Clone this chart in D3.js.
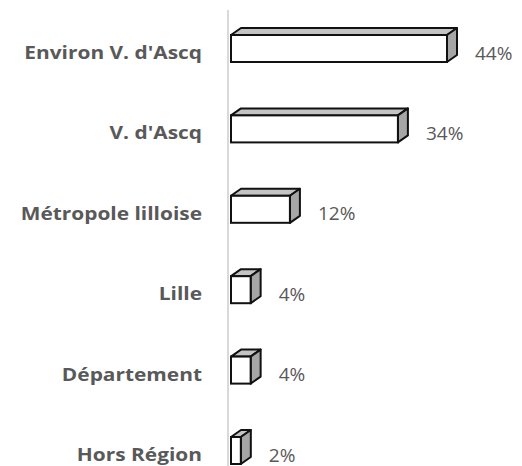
<!DOCTYPE html>
<html>
<head>
<meta charset="utf-8">
<script src="https://cdn.jsdelivr.net/npm/d3@7"></script>
<style>
  html, body { margin: 0; padding: 0; background: #fff; }
  svg { display: block; }
</style>
</head>
<body>
<div id="chart"></div>
<script>
// données du graphique
const categories = ["Environ V. d'Ascq", "V. d'Ascq", "Métropole lilloise", "Lille", "Département", "Hors Région"]
const values = [44, 34, 12, 4, 4, 2]
const valueLabels = ["44%", "34%", "12%", "4%", "4%", "2%"]

const width = 522
const height = 466
const depthX = 10   // profondeur 3D
const depthY = 7

const svg = d3.select('#chart').append('svg')
    .attr('width', width)
    .attr('height', height)

const x = d3.scaleLinear()
    .domain([0, 44])
    .range([231, 447])

const y = d3.scaleBand()
    .domain(categories)
    .range([8.3, 490.7])
    .paddingInner(0.664)
    .paddingOuter(0.332)

const rows = categories.map((c, i) => ({cat: c, val: values[i], label: valueLabels[i]}))

// axe vertical
svg.append('line')
    .attr('x1', 228).attr('x2', 228)
    .attr('y1', 10).attr('y2', height)
    .attr('stroke', '#d9d9d9')
    .attr('stroke-width', 2)

const g = svg.selectAll('g.bar')
    .data(rows)
    .join('g')
    .attr('class', 'bar')

const stroke = '#111'
const sw = 2

// face du dessus
g.append('path')
    .attr('d', d => {
        const x0 = x(0), x1 = x(d.val), y0 = y(d.cat)
        return `M${x0},${y0} L${x0 + depthX},${y0 - depthY} L${x1 + depthX},${y0 - depthY} L${x1},${y0} Z`
    })
    .attr('fill', '#c4c4c4')
    .attr('stroke', stroke)
    .attr('stroke-width', sw)
    .attr('stroke-linejoin', 'round')

// face de côté
g.append('path')
    .attr('d', d => {
        const x1 = x(d.val), y0 = y(d.cat), y1 = y0 + y.bandwidth()
        return `M${x1},${y0} L${x1 + depthX},${y0 - depthY} L${x1 + depthX},${y1 - depthY} L${x1},${y1} Z`
    })
    .attr('fill', '#a6a6a6')
    .attr('stroke', stroke)
    .attr('stroke-width', sw)
    .attr('stroke-linejoin', 'round')

// face avant
g.append('rect')
    .attr('x', x(0))
    .attr('y', d => y(d.cat))
    .attr('width', d => x(d.val) - x(0))
    .attr('height', y.bandwidth())
    .attr('fill', '#fff')
    .attr('stroke', stroke)
    .attr('stroke-width', sw)

// étiquettes de valeur
g.append('text')
    .attr('x', d => x(d.val) + 28)
    .attr('y', d => y(d.cat) + y.bandwidth() / 2 + 11)
    .attr('font-family', "'Open Sans', sans-serif")
    .attr('font-size', 19)
    .attr('fill', '#595959')
    .text(d => d.label)

// étiquettes de catégorie
g.append('text')
    .attr('transform', d => `translate(202,${y(d.cat) + y.bandwidth() / 2 + 10.5}) scale(1.13,1)`)
    .attr('text-anchor', 'end')
    .attr('font-family', "'Open Sans', sans-serif")
    .attr('font-weight', 'bold')
    .attr('font-size', 18.5)
    .attr('fill', '#595959')
    .text(d => d.cat)
</script>
</body>
</html>
